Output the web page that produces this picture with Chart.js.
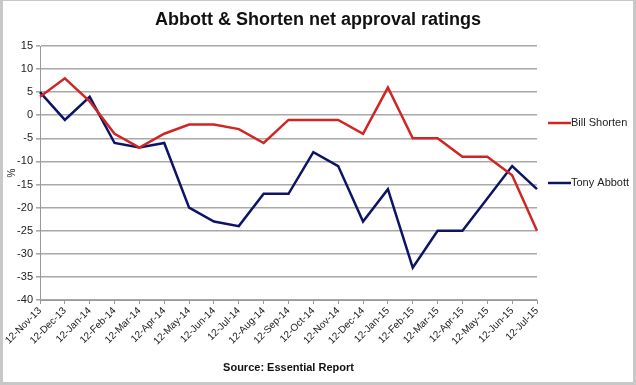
<!DOCTYPE html>
<html>
<head>
<meta charset="utf-8">
<script src="https://cdn.jsdelivr.net/npm/chart.js@4/dist/chart.umd.min.js"></script>
<style>
  html, body { margin: 0; padding: 0; background: #c8c8c8; }
  #wrap { position: absolute; left: 3px; top: 1px; width: 630px; height: 381px; background: #fff; }
</style>
</head>
<body>
<div id="wrap"><canvas id="myChart" width="630" height="381"></canvas></div>
<script>
// dates of each poll
const months = ['12-Nov-13', '12-Dec-13', '12-Jan-14', '12-Feb-14', '12-Mar-14', '12-Apr-14', '12-May-14',
    '12-Jun-14', '12-Jul-14', '12-Aug-14', '12-Sep-14', '12-Oct-14', '12-Nov-14', '12-Dec-14',
    '12-Jan-15', '12-Feb-15', '12-Mar-15', '12-Apr-15', '12-May-15', '12-Jun-15', '12-Jul-15']

// net approval, %
const shorten = [4, 8, 3, -4, -7, -4, -2, -2, -3, -6, -1, -1, -1, -4, 6, -5, -5, -9, -9, -13, -25]
const abbott = [5, -1, 4, -6, -7, -6, -20, -23, -24, -17, -17, -8, -11, -23, -16, -33, -25, -25, -18, -11, -16]

const yMin = -40
const yMax = 15
const yStep = 5

const font = 'Arial, "Liberation Sans", sans-serif'

// legend drawn at the right side like the original
const sideLegend = {
    id: 'sideLegend',
    afterDraw(chart) {
        const c = chart.ctx
        const area = chart.chartArea
        const offsets = [77, 137]
        c.save()
        chart.data.datasets.forEach((ds, i) => {
            const y = area.top + offsets[i]
            c.strokeStyle = ds.borderColor
            c.lineWidth = 2.5
            c.beginPath()
            c.moveTo(area.right + 11, y)
            c.lineTo(area.right + 34, y)
            c.stroke()
            c.fillStyle = '#222'
            c.font = '11px ' + font
            c.textBaseline = 'middle'
            c.fillText(ds.label, area.right + 34, y)
        })
        c.restore()
    }
}

const ctx = document.getElementById('myChart').getContext('2d')

const myChart = new Chart(ctx, {
    type: 'line',
    data: {
        labels: months,
        datasets: [{
            label: 'Bill Shorten',
            data: shorten,
            borderColor: '#cf2624',
            borderWidth: 2.5,
            pointRadius: 0,
            tension: 0
        }, {
            label: 'Tony Abbott',
            data: abbott,
            borderColor: '#0d1466',
            borderWidth: 2.5,
            pointRadius: 0,
            tension: 0
        }]
    },
    options: {
        responsive: false,
        animation: false,
        layout: { padding: 0 },
        plugins: {
            legend: { display: false },
            tooltip: { enabled: false },
            title: {
                display: true,
                text: 'Abbott & Shorten net approval ratings',
                color: '#111',
                font: { family: font, size: 18, weight: 'bold' },
                padding: { top: 8, bottom: 15.4 }
            },
            subtitle: {
                display: true,
                position: 'bottom',
                fullSize: false,
                text: 'Source: Essential Report',
                color: '#111',
                font: { family: font, size: 11, weight: 'bold' },
                padding: { top: 10, bottom: 7.4 }
            }
        },
        scales: {
            x: {
                offset: false,
                afterFit: s => { s.height = 51.4 },
                grid: { drawOnChartArea: false, tickLength: 4, color: '#999' },
                border: { color: '#999', width: 1 },
                ticks: {
                    autoSkip: false,
                    maxRotation: 45,
                    minRotation: 45,
                    padding: 1,
                    color: '#222',
                    font: { family: font, size: 10 }
                }
            },
            y: {
                min: yMin,
                max: yMax,
                afterFit: s => { s.width = 37 },
                title: {
                    display: true,
                    text: '%',
                    color: '#222',
                    font: { family: font, size: 10 },
                    padding: { top: 3, bottom: 0 }
                },
                grid: { color: '#a8a8a8', lineWidth: 1.6, tickLength: 4 },
                border: { color: '#999', width: 1 },
                ticks: {
                    stepSize: yStep,
                    padding: 3,
                    color: '#222',
                    font: { family: font, size: 11 }
                }
            },
            // empty right side box, room for the legend
            side: {
                position: 'right',
                afterFit: s => { s.width = 96 },
                ticks: { display: false },
                grid: { display: false },
                border: { display: false }
            }
        }
    },
    plugins: [sideLegend]
})
</script>
</body>
</html>
